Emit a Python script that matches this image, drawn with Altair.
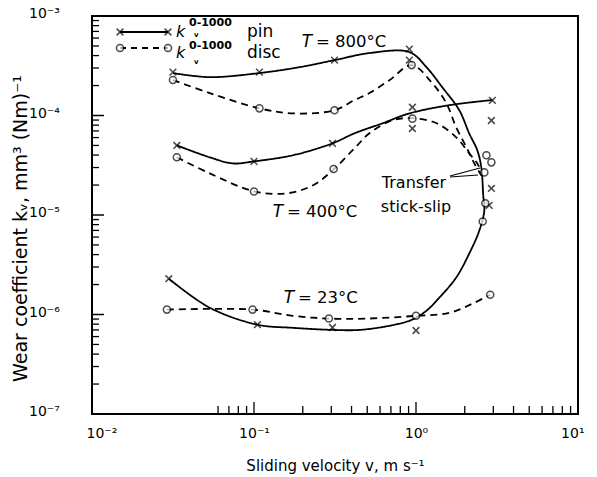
import altair as alt
import pandas as pd

# ---------------- data ----------------
# solid pin curve: T=23°C from the left, rising transition near 2.6 m/s, then T=800°C back to the left
pin_main_v = [0.0298, 0.0533, 0.105, 0.173, 0.305, 0.448, 0.685, 0.91, 1.0, 1.16, 1.39, 1.77, 2.13,
              2.46, 2.64, 2.60, 2.53, 2.39, 2.13, 1.85, 1.45, 1.16, 0.91, 0.516, 0.314, 0.191, 0.108,
              0.0533, 0.0316]
pin_main_k = [2.29e-6, 1.17e-6, 7.9e-7, 7.35e-7, 7.0e-7, 7.0e-7, 7.7e-7, 8.65e-7, 9.3e-7, 1.09e-6,
              1.47e-6, 2.35e-6, 4.09e-6, 6.98e-6, 1.11e-5, 1.57e-5, 3.01e-5, 4.47e-5, 6.6e-5, 1.13e-4,
              1.93e-4, 3.06e-4, 4.34e-4, 4.24e-4, 3.6e-4, 3.06e-4, 2.67e-4, 2.43e-4, 2.67e-4]
# solid pin curve at T=400°C
pin400_v = [0.0334, 0.0533, 0.074, 0.1, 0.173, 0.305, 0.417, 0.621, 0.91, 1.61, 2.96]
pin400_k = [5.01e-5, 3.8e-5, 3.3e-5, 3.46e-5, 3.98e-5, 5.25e-5, 6.62e-5, 8.35e-5, 1.05e-4, 1.27e-4, 1.43e-4]
# dashed disc curves
disc800_v = [0.0316, 0.0533, 0.108, 0.173, 0.314, 0.417, 0.516, 0.685, 0.94, 1.26, 1.54, 1.77, 2.05, 2.29, 2.53]
disc800_k = [2.27e-4, 1.68e-4, 1.18e-4, 1.05e-4, 1.13e-4, 1.43e-4, 1.68e-4, 2.26e-4, 3.21e-4, 2.11e-4,
             1.33e-4, 7.6e-5, 4.79e-5, 3.3e-5, 2.5e-5]
disc400_v = [0.0334, 0.0533, 0.1, 0.159, 0.23, 0.31, 0.417, 0.516, 0.716, 0.95, 1.34, 1.77, 2.13, 2.39, 2.56]
disc400_k = [3.8e-5, 2.62e-5, 1.73e-5, 1.65e-5, 1.98e-5, 2.87e-5, 4.68e-5, 6.62e-5, 8.95e-5, 9.4e-5,
             8.35e-5, 6.04e-5, 4.17e-5, 3.3e-5, 2.62e-5]
disc23_v = [0.029, 0.098, 0.173, 0.29, 0.5, 1.0, 1.61, 2.22, 2.87]
disc23_k = [1.12e-6, 1.12e-6, 9.7e-7, 9.1e-7, 9.1e-7, 9.7e-7, 1.04e-6, 1.28e-6, 1.58e-6]

# measured points
pin_pts_v = [0.0298, 0.105, 0.305, 1.0, 0.0334, 0.1, 0.305, 0.95, 0.95, 2.96,
             0.0316, 0.108, 0.314, 0.91, 0.91, 2.92, 2.92, 2.83]
pin_pts_k = [2.29e-6, 7.9e-7, 7.4e-7, 6.9e-7, 5.0e-5, 3.46e-5, 5.25e-5, 1.21e-4, 7.4e-5, 1.42e-4,
             2.73e-4, 2.73e-4, 3.6e-4, 4.65e-4, 3.6e-4, 8.9e-5, 1.85e-5, 1.25e-5]
disc_pts_v = [0.029, 0.098, 0.29, 1.0, 2.87, 0.0334, 0.1, 0.31, 0.95,
              0.0316, 0.108, 0.314, 0.94, 2.72, 2.92, 2.64, 2.68, 2.58]
disc_pts_k = [1.12e-6, 1.12e-6, 9.1e-7, 9.7e-7, 1.58e-6, 3.8e-5, 1.72e-5, 2.9e-5, 9.3e-5,
              2.27e-4, 1.18e-4, 1.13e-4, 3.21e-4, 3.98e-5, 3.38e-5, 2.68e-5, 1.31e-5, 8.6e-6]

# axis ticks and tick labels
y_major = [1e-3, 1e-4, 1e-5, 1e-6, 1e-7]
y_major_labels = ["10⁻³", "10⁻⁴", "10⁻⁵", "10⁻⁶", "10⁻⁷"]
y_decades = [1e-7, 1e-6, 1e-5, 1e-4]
minor_mult = [2, 3, 4, 5, 6, 7, 8, 9]
x_major = [0.01, 0.1, 1, 10]
x_minor = [0.06, 0.07, 0.08, 0.09, 0.2, 0.3, 0.4, 0.5, 0.6, 0.7, 0.8, 0.9,
           2, 3, 4, 5, 6, 7, 8, 9]

# ---------------- build tables ----------------
rows = []
for name, vs, ks, dash in [("pin_main", pin_main_v, pin_main_k, "solid"),
                           ("pin400", pin400_v, pin400_k, "solid"),
                           ("disc800", disc800_v, disc800_k, "dashed"),
                           ("disc400", disc400_v, disc400_k, "dashed"),
                           ("disc23", disc23_v, disc23_k, "dashed")]:
    for i, (v, k) in enumerate(zip(vs, ks)):
        rows.append({"v": v, "k": k, "curve": name, "dash": dash, "ord": i})
curves = pd.DataFrame(rows)
pin_pts = pd.DataFrame({"v": pin_pts_v, "k": pin_pts_k})
disc_pts = pd.DataFrame({"v": disc_pts_v, "k": disc_pts_k})
y_minor = pd.DataFrame({"k": [m * d for d in y_decades for m in minor_mult]})
y_maj = pd.DataFrame({"k": y_major, "lab": y_major_labels})
x_min = pd.DataFrame({"v": x_minor})
x_maj = pd.DataFrame({"v": [0.1, 1]})

FONT = "DejaVu Sans"
sup = "['⁻⁷','⁻⁶','⁻⁵','⁻⁴','⁻³','⁻²','⁻¹','⁰','¹'][round(log(datum.value)/LN10)+7]"

xscale = alt.Scale(type="log", domain=[0.01, 10])
yscale = alt.Scale(type="log", domain=[1e-7, 1e-3])

xaxis = alt.Axis(
    values=x_major, labelExpr="'10' + " + sup, tickSize=0, domain=False, grid=False,
    labelFlush=True, labelFlushOffset=6,
    labelFontSize=14, labelFont=FONT, labelPadding=12, labelColor="black",
    title="Sliding velocity v, m s⁻¹", titleFont=FONT, titleFontSize=15, titleFontWeight="normal",
    titleColor="black", titleY=51, titleBaseline="middle")
yaxis = alt.Axis(
    values=y_major, labels=False, ticks=False, domain=False, grid=False,
    title="Wear coefficient kᵥ, mm³ (Nm)⁻¹", titleFont=FONT, titleFontSize=19,
    titleFontWeight="normal", titleColor="black", titleX=-72, titleY=212,
    titleBaseline="middle", titleAlign="center", titleAngle=270)

X = alt.X("v:Q", scale=xscale, axis=xaxis)
Y = alt.Y("k:Q", scale=yscale, axis=yaxis)

lines = alt.Chart(curves).mark_line(color="black", strokeWidth=1.8, interpolate="catmull-rom").encode(
    x=X, y=Y, detail="curve:N", order="ord:Q",
    strokeDash=alt.StrokeDash("dash:N", scale=alt.Scale(domain=["solid", "dashed"], range=[[1, 0], [7, 5]]),
                              legend=None))
xshape = "M-1,-1L1,1M1,-1L-1,1"
pins = alt.Chart(pin_pts).mark_point(shape=xshape, size=45, color="black", strokeWidth=1.6, filled=False).encode(
    x=X, y=Y)
discs = alt.Chart(disc_pts).mark_point(shape="circle", size=50, color="black", fill="white", filled=True,
                                       stroke="black", strokeWidth=1.5).encode(x=X, y=Y)

# inward ticks and y tick labels
ytick_maj = alt.Chart(y_maj).mark_rule(color="black", strokeWidth=1.5).encode(
    y=Y, x=alt.value(0), x2=alt.value(12))
ytick_lab = alt.Chart(y_maj).mark_text(font=FONT, fontSize=14, align="left", baseline="middle",
                                       color="black", dy=-2).encode(
    y=Y, x=alt.value(-63), text="lab:N")
ytick_min = alt.Chart(y_minor).mark_rule(color="black", strokeWidth=1.3).encode(
    y=Y, x=alt.value(0), x2=alt.value(7))
xtick_maj = alt.Chart(x_maj).mark_rule(color="black", strokeWidth=1.3).encode(
    x=X, y=alt.value(398), y2=alt.value(386))
xtick_min = alt.Chart(x_min).mark_rule(color="black", strokeWidth=1.3).encode(
    x=X, y=alt.value(398), y2=alt.value(390))

# legend (drawn by hand)
one = pd.DataFrame({"a": [0]})
def seg(x1, x2, y, dash):
    return alt.Chart(one).mark_rule(color="black", strokeWidth=1.8, strokeDash=dash).encode(
        x=alt.value(x1), x2=alt.value(x2), y=alt.value(y))
def sym(x, y, shape):
    if shape == "x":
        return alt.Chart(one).mark_point(shape=xshape, size=45, color="black", strokeWidth=1.6).encode(
            x=alt.value(x), y=alt.value(y))
    return alt.Chart(one).mark_point(shape="circle", size=50, fill="white", filled=True, stroke="black",
                                     strokeWidth=1.5).encode(x=alt.value(x), y=alt.value(y))
def txt(s, x, y, size=15, align="left", style="normal", weight="normal", baseline="middle"):
    return alt.Chart(one).mark_text(text=s, font=FONT, fontSize=size, align=align, fontStyle=style,
                                    fontWeight=weight, baseline=baseline, color="black").encode(
        x=alt.value(x), y=alt.value(y))

legend = [
    seg(28, 76, 16, [1, 0]), sym(28, 16, "x"), sym(76, 16, "x"),
    seg(28, 76, 32, [6, 5]), sym(28, 32, "o"), sym(76, 32, "o"),
    txt("k", 84, 16, 16, style="italic"), txt("0-1000", 97, 7, 11, weight="bold"),
    txt("v", 102, 19, 7, weight="bold"), txt("pin", 155, 16, 17),
    txt("k", 84, 37, 16, style="italic"), txt("0-1000", 97, 30, 11, weight="bold"),
    txt("v", 102, 46, 7, weight="bold"), txt("disc", 155, 37, 17),
]
labels = [
    txt("T", 215, 26, 17, align="center", style="italic"), txt("= 800°C", 224, 26, 16.5),
    txt("T", 186, 196, 17, align="center", style="italic"), txt("= 400°C", 195, 196, 16.5),
    txt("T", 197, 282, 17, align="center", style="italic"), txt("= 23°C", 206, 282, 16.5),
    txt("Transfer", 322, 167, 16, align="center"), txt("stick-slip", 324, 191, 16, align="center"),
]
leader = [
    alt.Chart(one).mark_rule(color="black", strokeWidth=1.2).encode(
        x=alt.value(358), x2=alt.value(388), y=alt.value(160), y2=alt.value(152)),
    alt.Chart(one).mark_rule(color="black", strokeWidth=1.2).encode(
        x=alt.value(358), x2=alt.value(386), y=alt.value(161), y2=alt.value(159)),
]

chart = alt.layer(lines, ytick_min, ytick_maj, ytick_lab, xtick_min, xtick_maj, pins, discs,
                  *legend, *labels, *leader).properties(
    width=486, height=398,
    autosize=alt.AutoSizeParams(type="none"),
    padding={"left": 92, "top": 16, "right": 19, "bottom": 63},
).configure(background="white").configure_view(stroke="black", strokeWidth=2)

chart.save("out.html", embed_options={"renderer": "svg", "actions": False})
